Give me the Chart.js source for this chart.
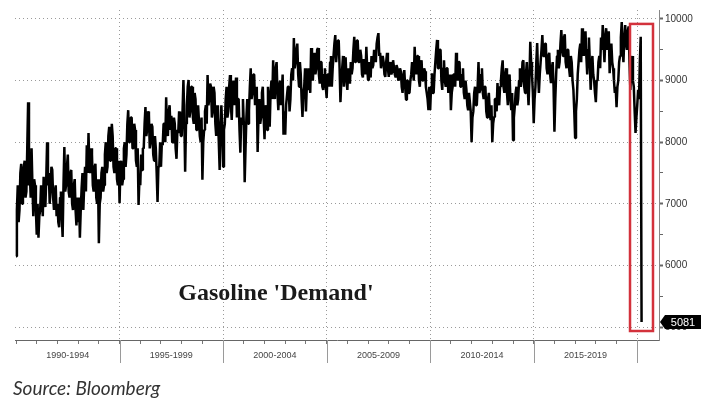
<!DOCTYPE html>
<html>
<head>
<meta charset="utf-8">
<title>Gasoline 'Demand'</title>
<script src="https://cdn.jsdelivr.net/npm/chart.js@4.4.1/dist/chart.umd.min.js"></script>
<style>
  html, body { margin: 0; padding: 0; background: #fff; }
  #wrap { width: 703px; height: 403px; position: relative; }
</style>
</head>
<body>
<div id="wrap"><canvas id="chart" width="703" height="403"></canvas></div>
<script>
// Demanda de gasolina (miles de barriles/día), dos valores por mes
const demand1990 = [
    6150, 6900, 7300, 6700, 6900, 7500, 7650, 7000, 7100, 7600, 7700, 7100, 7200, 7900, 8650, 7300, 7500, 7100, 7900, 7300, 6800, 7400, 7300, 6900,
    6500, 7000, 6450, 6800, 6900, 7300, 7100, 6800, 7440, 7000, 6950, 7400, 8000, 7300, 7500, 7000, 7200, 7600, 7550, 7100, 6900, 7200, 7300, 6800,
    7000, 6700, 6620, 7100, 7200, 6800, 6460, 7300, 7920, 7200, 7300, 7600, 7800, 7200, 7100, 7500, 7550, 7000, 6900, 7300, 7400, 6900, 6650, 7100,
    6700, 7100, 6450, 6900, 7250, 7500, 6900, 7300, 7600, 7200, 7950, 7500, 8150, 7600, 7500, 7900, 7800, 7300, 7200, 7600, 7650, 7100, 7000, 7400,
    6360, 7000, 7100, 7500, 7600, 7200, 7300, 7800, 8000, 7500, 7600, 8100, 8250, 7700, 7800, 8300, 8100, 7600, 7500, 7900, 7900, 7400, 7300, 7700
];
const demand1995 = [
    7010, 7600, 7700, 7300, 7400, 7900, 8000, 7600, 7800, 8300, 8520, 8000, 8100, 8400, 8400, 7900, 7900, 8300, 8200, 7700, 7600, 7900, 6980, 7400,
    7300, 7800, 7550, 7900, 7900, 8300, 8570, 8100, 8200, 8500, 8450, 7900, 8000, 8300, 8250, 7800, 7700, 8100, 7900, 7500, 7030, 7600, 7600, 8000,
    7600, 8000, 7950, 8300, 8300, 8000, 8730, 8200, 8100, 8500, 8600, 8200, 8430, 8000, 8000, 8400, 8300, 7900, 7730, 8200, 8150, 8500, 8400, 8100,
    8100, 8500, 9010, 8400, 7520, 8300, 8600, 8900, 9010, 8400, 8500, 8900, 8900, 8400, 8300, 8800, 8700, 8200, 8200, 8600, 8600, 8100, 8000, 8400,
    7390, 8000, 8200, 8500, 8600, 8300, 9090, 8600, 8700, 8950, 8900, 8400, 8500, 8900, 8800, 8300, 8100, 8600, 8400, 8000, 7550, 8300, 8600, 8200
];
const demand2000 = [
    7600, 8200, 8300, 8700, 8900, 8400, 8500, 8900, 9090, 8600, 8360, 8800, 9000, 8600, 8800, 9050, 8400, 8700, 8700, 8200, 7830, 8400, 8300, 8700,
    8300, 7350, 7900, 8400, 8700, 8300, 8520, 8900, 9200, 8700, 8800, 9100, 9100, 8600, 8600, 8900, 7840, 8400, 8700, 8300, 8400, 8800, 8900, 8400,
    8050, 8600, 8500, 8200, 8900, 8600, 8250, 8800, 9000, 8700, 9330, 8900, 8700, 9200, 9300, 8800, 8520, 8900, 9000, 8600, 8800, 9100, 8120, 8500,
    8120, 8600, 8600, 8900, 8900, 8500, 8700, 9100, 9200, 9000, 9690, 9200, 9300, 9500, 9600, 9100, 8900, 9300, 9100, 8700, 8410, 8800, 8900, 9200,
    8500, 8900, 8850, 9200, 9100, 8800, 9530, 9200, 9000, 9300, 9450, 9100, 9200, 9500, 9530, 9100, 8950, 9300, 9300, 8900, 8850, 9100, 9200, 8900
];
const demand2005 = [
    8720, 9100, 9100, 8900, 9300, 9400, 8900, 9200, 9400, 9600, 9740, 9300, 9500, 9650, 9650, 9200, 8650, 9000, 9200, 9400, 8900, 9200, 9380, 9000,
    8850, 9200, 9100, 8950, 9300, 9100, 9200, 9500, 9710, 9300, 9500, 9650, 9650, 9300, 9300, 9500, 9400, 9100, 9050, 9350, 9300, 9100, 9550, 9200,
    9010, 9300, 9200, 9050, 9400, 9200, 9250, 9500, 9500, 9300, 9600, 9700, 9770, 9400, 9450, 9200, 9200, 9400, 9300, 9100, 9060, 9300, 9450, 9200,
    9060, 9250, 9300, 9100, 9150, 9330, 9330, 9100, 9050, 9250, 9200, 9000, 9030, 9200, 9150, 8900, 8800, 9100, 9170, 8900, 8690, 9000, 9000, 8800,
    8800, 9000, 9100, 9300, 9300, 9000, 9550, 9200, 9100, 9400, 9400, 9000, 8900, 9250, 9330, 9000, 9000, 9200, 9150, 8900, 8800, 8700, 8520, 8900
];
const demand2010 = [
    8520, 8900, 9120, 8800, 8800, 9100, 9300, 9500, 9660, 9200, 9200, 9500, 9500, 9000, 8850, 9200, 9330, 9000, 8900, 9200, 9200, 8800, 8900, 9100,
    8520, 8800, 8900, 9100, 9100, 8900, 9450, 9100, 9000, 9300, 9300, 8900, 8900, 9100, 9200, 8800, 8700, 9000, 8850, 8600, 8520, 8800, 8800, 8500,
    8000, 8400, 8500, 8800, 8900, 8600, 8600, 8900, 9300, 8800, 8850, 9100, 9200, 8800, 8700, 8900, 8900, 8500, 8400, 8700, 8800, 8500, 8360, 8600,
    8000, 8300, 8410, 8700, 8700, 8500, 8960, 8700, 8600, 8900, 9000, 9200, 9330, 8900, 8800, 9100, 9200, 8800, 8600, 8900, 9100, 8700, 8520, 8800,
    8030, 8400, 8570, 8800, 8900, 8600, 8700, 9000, 9200, 8900, 9000, 9300, 9330, 8900, 8800, 9100, 9300, 8900, 8600, 9000, 9630, 9300, 9100, 8800
];
const demand2015 = [
    8310, 8700, 8900, 9300, 9610, 9100, 8800, 9100, 9300, 9500, 9740, 9400, 9400, 9600, 9600, 9200, 9100, 9400, 9450, 9100, 8960, 9200, 9300, 8900,
    8170, 8700, 9100, 9400, 9500, 9200, 9300, 9600, 9820, 9500, 9400, 9700, 9750, 9300, 9200, 9500, 9500, 9200, 9060, 9400, 9300, 9000, 8850, 8500,
    8070, 8500, 8700, 9100, 9300, 9500, 9600, 9300, 9850, 9600, 9400, 9700, 9800, 9400, 9100, 9500, 9700, 9300, 8850, 9200, 9400, 9100, 9000, 8800,
    8650, 9000, 9000, 9300, 9400, 9200, 9700, 9500, 9900, 9600, 9300, 9700, 9850, 9500, 9500, 9800, 9120, 9400, 9600, 9300, 9200, 9000, 8800, 8900,
    8570, 8900, 9000, 9300, 9400, 9700, 9950, 9500, 9300, 9700, 9900, 9600, 9500, 9800, 9880, 9300, 8850, 9200, 9400, 9000, 8900, 8500, 8150, 8400
];
const demand2020 = [8600, 8850, 8700, 9300, 9710, 5081];

const periodStarts = [1990, 1995, 2000, 2005, 2010, 2015];
const periodLabels = ["1990-1994", "1995-1999", "2000-2004", "2005-2009", "2010-2014", "2015-2019"];
const yTickValues = [5000, 5500, 6000, 6500, 7000, 7500, 8000, 8500, 9000, 9500, 10000];

// Armar los puntos (año decimal, valor), 24 por año
const blocks = [
    [1990, demand1990], [1995, demand1995], [2000, demand2000],
    [2005, demand2005], [2010, demand2010], [2015, demand2015], [2020, demand2020]
];
const points = [];
blocks.forEach(([start, vals]) => {
    vals.forEach((v, i) => points.push({ x: start + i / 24, y: v }));
});
const lastValue = points[points.length - 1].y;

// Textos, recuadro rojo y etiqueta del último valor
const extras = {
    id: "extras",
    afterDatasetsDraw(chart) {
        const { ctx, scales: { x, y } } = chart;
        const x1 = x.getPixelForValue(2019.65), x2 = x.getPixelForValue(2020.76);
        const y1 = y.getPixelForValue(9920), y2 = y.getPixelForValue(4935);
        ctx.save();
        ctx.strokeStyle = "#d3323c";
        ctx.lineWidth = 2.5;
        ctx.strokeRect(x1, y1, x2 - x1, y2 - y1);
        ctx.restore();
    },
    afterDraw(chart) {
        const { ctx, chartArea, scales: { x, y } } = chart;
        ctx.save();

        // separadores de periodo debajo del eje
        ctx.strokeStyle = "#9a9a9a";
        ctx.lineWidth = 1;
        periodStarts.concat([2020]).forEach(yr => {
            if (yr === 1990) return;
            const px = Math.round(x.getPixelForValue(yr)) + 0.5;
            ctx.beginPath();
            ctx.moveTo(px, chartArea.bottom);
            ctx.lineTo(px, chartArea.bottom + 23);
            ctx.stroke();
        });

        // etiquetas de periodo
        ctx.fillStyle = "#444";
        ctx.font = "9px 'Liberation Sans', Arial, sans-serif";
        ctx.textAlign = "center";
        ctx.textBaseline = "middle";
        periodStarts.forEach((yr, i) => {
            ctx.fillText(periodLabels[i], x.getPixelForValue(yr + 2.5), chartArea.bottom + 16);
        });

        // título dentro del gráfico
        ctx.fillStyle = "#1a1a1a";
        ctx.font = "bold 24px 'Liberation Serif', 'Times New Roman', serif";
        ctx.fillText("Gasoline 'Demand'", x.getPixelForValue(2002.55), y.getPixelForValue(5536));

        // etiqueta del último valor
        const ly = Math.round(y.getPixelForValue(lastValue));
        const left = chartArea.right + 1;
        ctx.fillStyle = "#000";
        ctx.beginPath();
        ctx.moveTo(left, ly);
        ctx.lineTo(left + 5, ly - 7);
        ctx.lineTo(701, ly - 7);
        ctx.lineTo(701, ly + 7);
        ctx.lineTo(left + 5, ly + 7);
        ctx.closePath();
        ctx.fill();
        ctx.fillStyle = "#fff";
        ctx.font = "11px 'Liberation Sans', Arial, sans-serif";
        ctx.textAlign = "center";
        ctx.fillText(String(lastValue), left + 23, ly + 1);

        // fuente
        ctx.fillStyle = "#333";
        ctx.font = "italic 19px Lato, 'Open Sans', sans-serif";
        ctx.textAlign = "left";
        ctx.textBaseline = "alphabetic";
        ctx.fillText("Source: Bloomberg", 13, 395);

        ctx.restore();
    }
};

const ctx = document.getElementById("chart").getContext("2d");
new Chart(ctx, {
    type: "line",
    data: {
        datasets: [{
            label: "Gasoline Demand",
            data: points,
            borderColor: "#000",
            borderWidth: 2.5,
            borderJoinStyle: "bevel",
            pointRadius: 0,
            tension: 0,
            fill: false
        }]
    },
    options: {
        responsive: false,
        animation: false,
        layout: { padding: { left: 15, top: 10, right: 0, bottom: 0 } },
        plugins: {
            legend: { display: false },
            tooltip: { enabled: false }
        },
        scales: {
            x: {
                type: "linear",
                min: 1989.95,
                max: 2021.05,
                afterBuildTicks: scale => {
                    const t = [];
                    for (let yr = 1990; yr <= 2020; yr++) t.push({ value: yr });
                    scale.ticks = t;
                },
                afterFit: scale => { scale.height = 63; },
                ticks: { display: false },
                grid: {
                    color: c => (c.tick && c.tick.value % 5 === 0 && c.tick.value > 1990) ? "#9a9a9a" : "transparent",
                    tickColor: "#777",
                    tickLength: 4,
                    tickBorderDash: []
                },
                border: { display: true, color: "#666", width: 1, dash: [1, 3] }
            },
            y: {
                position: "right",
                min: 4789,
                max: 10146,
                afterBuildTicks: scale => {
                    scale.ticks = yTickValues.map(v => ({ value: v }));
                },
                afterFit: scale => { scale.width = 44; },
                ticks: {
                    padding: 2,
                    color: "#333",
                    font: { family: "'Liberation Sans', Arial, sans-serif", size: 10 },
                    callback: v => (v % 1000 === 0 ? String(v) : "")
                },
                grid: {
                    color: c => (c.tick && c.tick.value % 1000 === 0) ? "#9a9a9a" : "transparent",
                    tickColor: "#666",
                    tickWidth: c => (c.tick && c.tick.value % 1000 === 0) ? 2 : 1,
                    tickLength: 4,
                    tickBorderDash: []
                },
                border: { display: true, color: "#888", width: 1, dash: [1, 3] }
            }
        }
    },
    plugins: [extras]
});
</script>
</body>
</html>
